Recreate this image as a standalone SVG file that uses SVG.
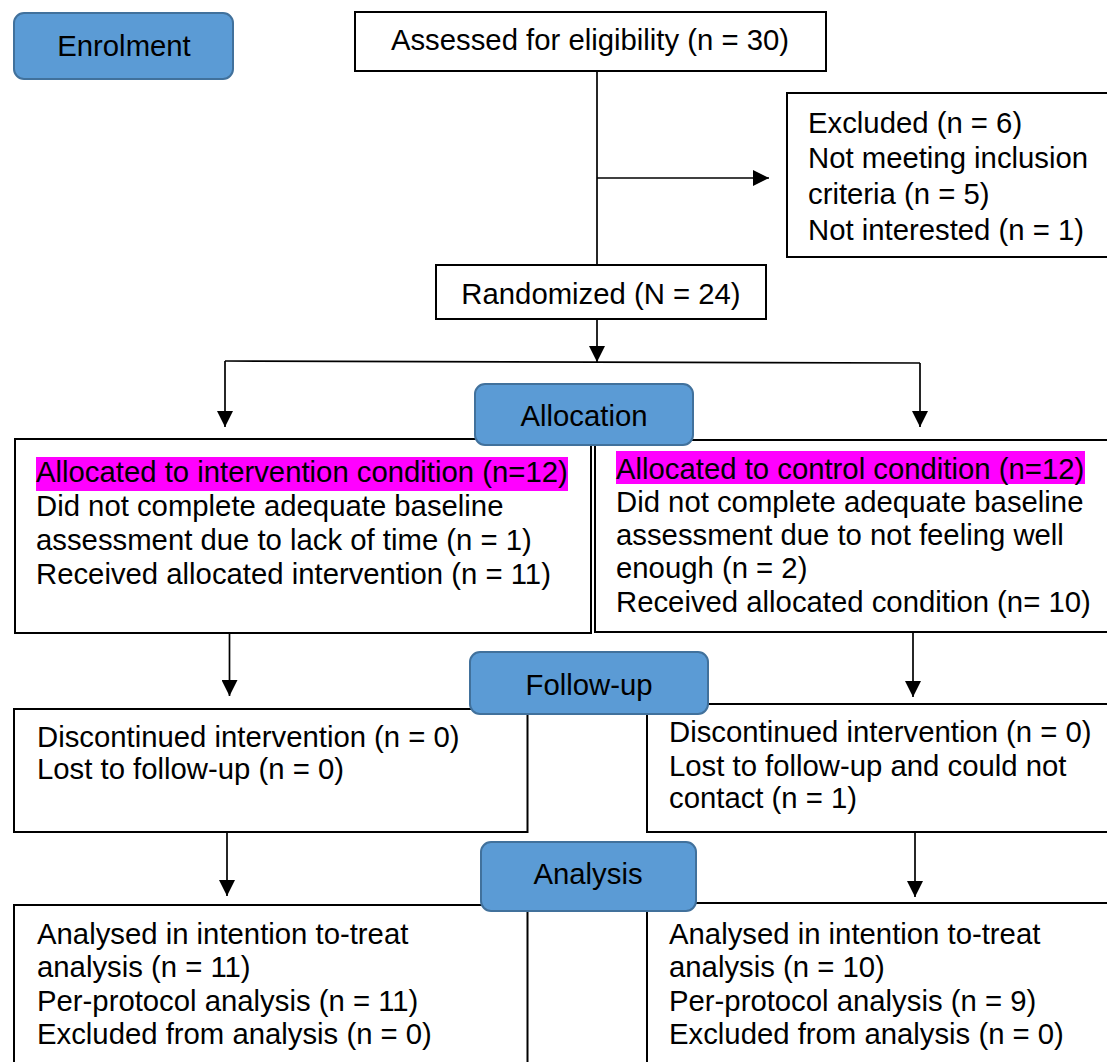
<svg xmlns="http://www.w3.org/2000/svg" width="1107" height="1062" viewBox="0 0 1107 1062">
<style>
text { font-family: "Liberation Sans", Arial, sans-serif; font-size: 29.3px; fill: #000; }
.box { fill: #fff; stroke: #000; stroke-width: 2; }
.stage { fill: #5b9bd5; stroke: #41719c; stroke-width: 2; }
.mid { text-anchor: middle; }
.hl { fill: #ff00ff; }
.conn { stroke: #000; stroke-width: 1.7; fill: none; }
</style>
<defs>
<marker id="arr" markerUnits="userSpaceOnUse" markerWidth="16" markerHeight="16" refX="16" refY="8" orient="auto">
<path d="M0,0 L16,8 L0,16 Z" fill="#000"/>
</marker>
</defs>
<rect width="1107" height="1062" fill="#fff"/>
<g id="connectors">
<line class="conn" x1="597" y1="71" x2="597" y2="265"/>
<line class="conn" x1="597" y1="178" x2="769" y2="178" marker-end="url(#arr)"/>
<line class="conn" x1="597" y1="319" x2="597" y2="362" marker-end="url(#arr)"/>
<line class="conn" x1="225" y1="361" x2="920" y2="363"/>
<line class="conn" x1="225" y1="361" x2="225" y2="427" marker-end="url(#arr)"/>
<line class="conn" x1="920" y1="363" x2="920" y2="427" marker-end="url(#arr)"/>
<line class="conn" x1="229.5" y1="633" x2="229.5" y2="696" marker-end="url(#arr)"/>
<line class="conn" x1="913" y1="632" x2="913" y2="697" marker-end="url(#arr)"/>
<line class="conn" x1="227" y1="832" x2="227" y2="896" marker-end="url(#arr)"/>
<line class="conn" x1="915" y1="832" x2="915" y2="897" marker-end="url(#arr)"/>
</g>
<g id="assessed">
<rect class="box" x="355" y="12" width="471" height="59"/>
<text class="mid" x="590" y="50">Assessed for eligibility (n = 30)</text>
</g>
<g id="excluded">
<rect class="box" x="787" y="93" width="330" height="164"/>
<text x="808" y="133">Excluded (n = 6)</text>
<text x="808" y="168">Not meeting inclusion</text>
<text x="808" y="204">criteria (n = 5)</text>
<text x="808" y="240">Not interested (n = 1)</text>
</g>
<g id="randomized">
<rect class="box" x="436" y="265" width="330" height="54"/>
<text class="mid" x="601" y="304">Randomized (N = 24)</text>
</g>
<g id="alloc-intervention">
<rect class="box" x="15" y="439" width="576" height="194"/>
<rect class="hl" x="36" y="457" width="532" height="34"/>
<text x="36" y="482">Allocated to intervention condition (n=12)</text>
<text x="36" y="516">Did not complete adequate baseline</text>
<text x="36" y="550">assessment due to lack of time (n = 1)</text>
<text x="36" y="584">Received allocated intervention (n = 11)</text>
</g>
<g id="alloc-control">
<rect class="box" x="595" y="440" width="520" height="192"/>
<rect class="hl" x="616" y="451" width="469" height="33"/>
<text x="616" y="479">Allocated to control condition (n=12)</text>
<text x="616" y="512">Did not complete adequate baseline</text>
<text x="616" y="545">assessment due to not feeling well</text>
<text x="616" y="578">enough (n = 2)</text>
<text x="616" y="612">Received allocated condition (n= 10)</text>
</g>
<g id="followup-intervention">
<rect class="box" x="14" y="709" width="513.5" height="123"/>
<text x="37" y="747">Discontinued intervention (n = 0)</text>
<text x="37" y="779">Lost to follow-up (n = 0)</text>
</g>
<g id="followup-control">
<rect class="box" x="647" y="704" width="470" height="128"/>
<text x="669" y="742">Discontinued intervention (n = 0)</text>
<text x="669" y="776">Lost to follow-up and could not</text>
<text x="669" y="808">contact (n = 1)</text>
</g>
<g id="analysis-intervention">
<rect class="box" x="14" y="905" width="513.5" height="200"/>
<text x="37" y="944">Analysed in intention to-treat</text>
<text x="37" y="977">analysis (n = 11)</text>
<text x="37" y="1011">Per-protocol analysis (n = 11)</text>
<text x="37" y="1044">Excluded from analysis (n = 0)</text>
</g>
<g id="analysis-control">
<rect class="box" x="647" y="903" width="470" height="200"/>
<text x="669" y="944">Analysed in intention to-treat</text>
<text x="669" y="977">analysis (n = 10)</text>
<text x="669" y="1011">Per-protocol analysis (n = 9)</text>
<text x="669" y="1044">Excluded from analysis (n = 0)</text>
</g>
<g id="enrolment">
<rect class="stage" x="14" y="13" width="219" height="66" rx="10"/>
<text class="mid" x="124" y="56">Enrolment</text>
</g>
<g id="allocation">
<rect class="stage" x="475" y="384" width="218" height="61" rx="10"/>
<text class="mid" x="584" y="426">Allocation</text>
</g>
<g id="followup">
<rect class="stage" x="470" y="652" width="238" height="62" rx="10"/>
<text class="mid" x="589" y="695">Follow-up</text>
</g>
<g id="analysis">
<rect class="stage" x="481" y="842" width="215" height="69" rx="10"/>
<text class="mid" x="588" y="884">Analysis</text>
</g>
</svg>
